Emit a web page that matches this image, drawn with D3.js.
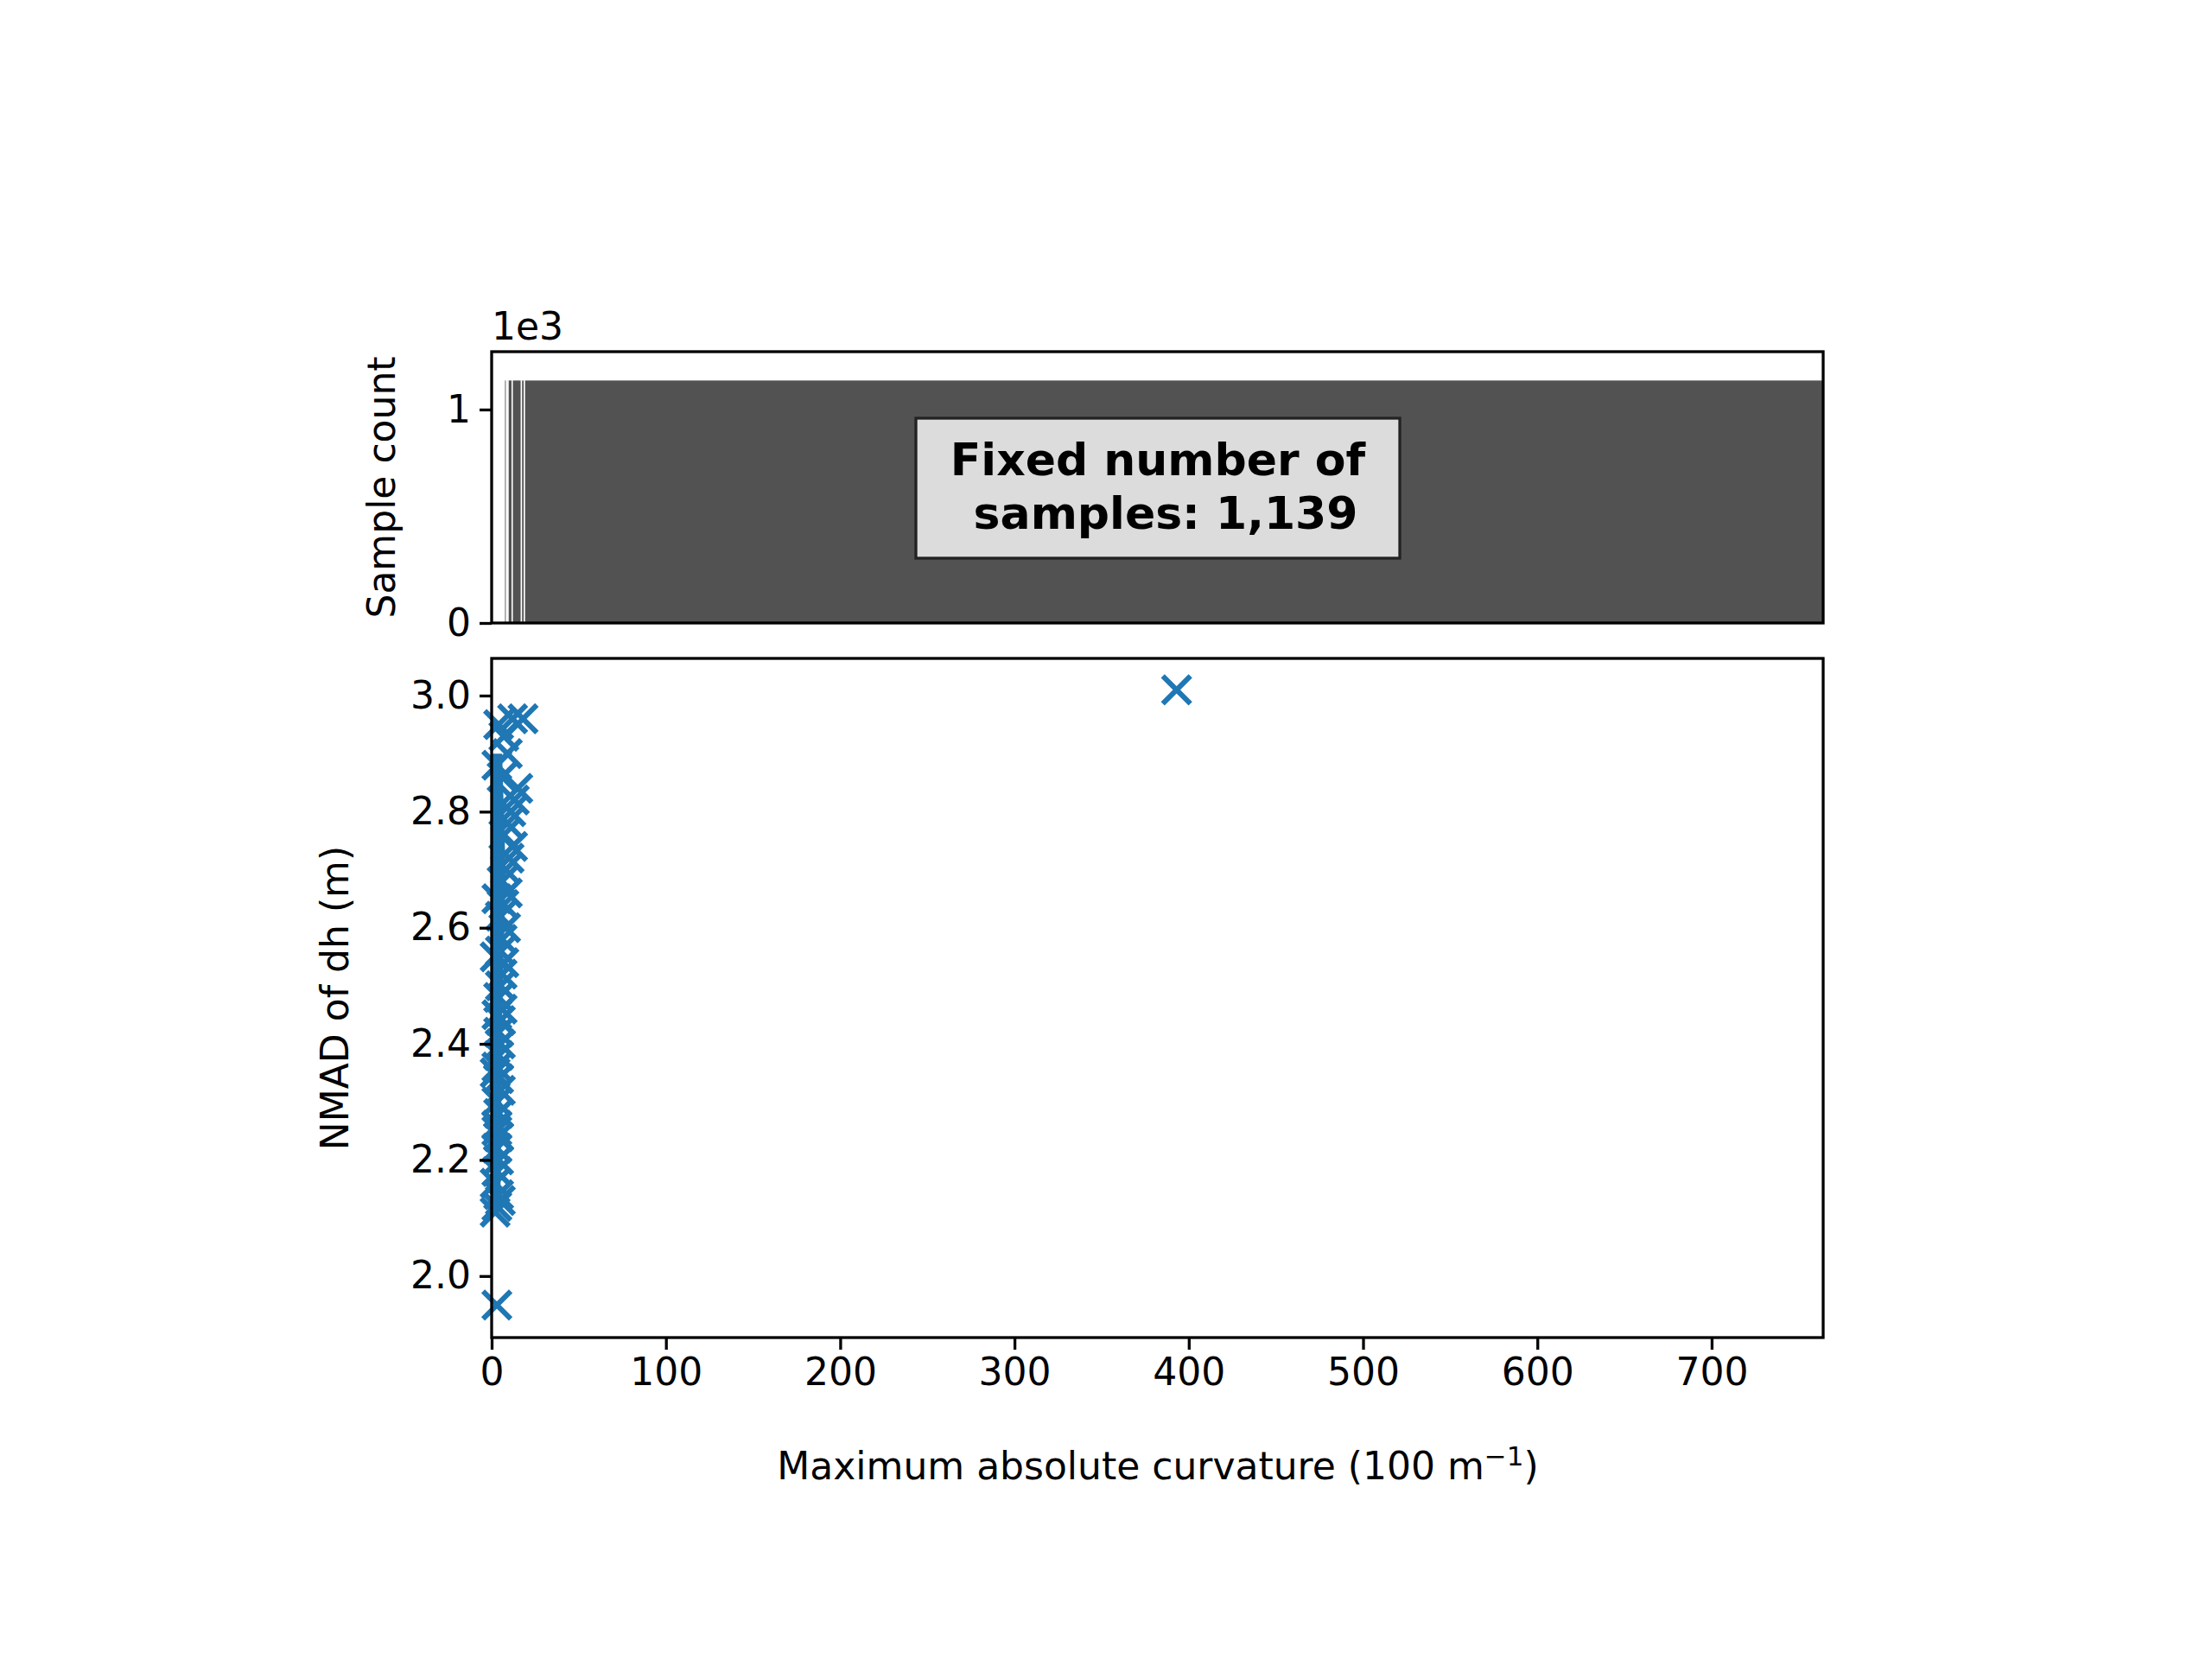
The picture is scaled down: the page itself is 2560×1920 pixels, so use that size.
<!DOCTYPE html>
<html><head><meta charset="utf-8">
<script src="https://cdn.jsdelivr.net/npm/d3@7"></script>
<style>body{margin:0;background:#fff}text{font-family:"DejaVu Sans",sans-serif}</style>
</head><body>
<script>
// histogram bin edges (equal-count bins), count per bin
var binEdges = [7.3, 8.6, 9.4, 11.8, 17.1, 18.8, 764];
var binCount = 1139;
// scatter: curvature (100 m^-1) and NMAD of dh (m)
var curv = [393, 18, 12, 4, 7, 9, 3, 6, 15, 13, 11, 9, 7, 12, 10, 8, 6, 9, 7, 5, 8, 6, 5, 7, 6, 5, 4, 6, 5, 4, 5, 4, 3, 4, 5, 3, 4, 3, 4, 3, 4, 3, 2, 4, 3, 2, 3, 2, 3, 2, 3, 5, 3];
var nmad = [3.01, 2.96, 2.96, 2.95, 2.93, 2.90, 2.88, 2.86, 2.84, 2.82, 2.80, 2.78, 2.76, 2.74, 2.72, 2.70, 2.68, 2.66, 2.64, 2.62, 2.60, 2.58, 2.56, 2.54, 2.52, 2.50, 2.48, 2.46, 2.44, 2.42, 2.40, 2.38, 2.36, 2.34, 2.32, 2.30, 2.28, 2.26, 2.24, 2.22, 2.20, 2.18, 2.16, 2.14, 2.12, 2.11, 2.25, 2.35, 2.45, 2.55, 2.65, 2.13, 1.95];
var xTicks = [0, 100, 200, 300, 400, 500, 600, 700];
var yTicks = [2.0, 2.2, 2.4, 2.6, 2.8, 3.0];

var W = 2560, H = 1920, L = 569, R = 2110;
var svg = d3.select("body").append("svg").attr("width", W).attr("height", H);
var x = d3.scaleLinear().domain([0, 764]).range([L, R]);
var yTop = d3.scaleLinear().domain([0, 1271]).range([721, 407]);
var yBot = d3.scaleLinear().domain([1.894, 3.064]).range([1548, 762]);
var fs = 44;

// top histogram
var bins = d3.range(binEdges.length - 1).map(function (i) { return [binEdges[i], binEdges[i + 1]]; });
svg.selectAll("rect.bar").data(bins).enter().append("rect")
  .attr("x", function (d) { return x(d[0]); })
  .attr("width", function (d) { return x(d[1]) - x(d[0]); })
  .attr("y", yTop(binCount)).attr("height", yTop(0) - yTop(binCount))
  .attr("fill", "#525252").attr("stroke", "#fff").attr("stroke-width", 1.5);

function frame(y0, y1) {
  svg.append("rect").attr("x", L).attr("y", y0).attr("width", R - L).attr("height", y1 - y0)
    .attr("fill", "none").attr("stroke", "#000").attr("stroke-width", 3.3);
}
frame(407, 721);
var gT = svg.append("g").attr("transform", "translate(" + L + ",0)")
  .call(d3.axisLeft(yTop).tickValues([0, 1000]).tickFormat(function (d) { return d / 1000; }).tickSize(14).tickPadding(10));
gT.select(".domain").remove();
svg.append("text").attr("x", L).attr("y", 393).attr("font-size", fs).text("1e3");
svg.append("text").attr("transform", "translate(457,564) rotate(-90)").attr("text-anchor", "middle")
  .attr("font-size", fs).text("Sample count");

// annotation box
svg.append("rect").attr("x", 1060).attr("y", 484).attr("width", 560).attr("height", 162)
  .attr("fill", "#dcdcdc").attr("stroke", "#222").attr("stroke-width", 3.3);
var tb = svg.append("text").attr("text-anchor", "middle").attr("font-size", 52).attr("font-weight", "bold");
tb.append("tspan").attr("x", 1340).attr("y", 550).text("Fixed number of");
tb.append("tspan").attr("x", 1340).attr("y", 612).text("\u00a0samples: 1,139");

// dense column of points
svg.append("path").attr("fill", "#1f77b4")
  .attr("d", d3.line()([[x(0), yBot(2.9)], [x(6), yBot(2.9)], [x(8), yBot(2.7)], [x(6), yBot(2.45)],
    [x(5), yBot(2.12)], [x(0), yBot(2.12)]]));
var s = 16;
svg.append("g").selectAll("path").data(curv).enter().append("path")
  .attr("d", function (d, i) {
    var cx = x(d), cy = yBot(nmad[i]);
    return "M" + (cx - s) + "," + (cy - s) + "L" + (cx + s) + "," + (cy + s) +
      "M" + (cx - s) + "," + (cy + s) + "L" + (cx + s) + "," + (cy - s);
  })
  .attr("stroke", "#1f77b4").attr("stroke-width", 6).attr("fill", "none");
frame(762, 1548);
var gY = svg.append("g").attr("transform", "translate(" + L + ",0)")
  .call(d3.axisLeft(yBot).tickValues(yTicks).tickFormat(d3.format(".1f")).tickSize(14).tickPadding(10));
gY.select(".domain").remove();
var gX = svg.append("g").attr("transform", "translate(0,1548)")
  .call(d3.axisBottom(x).tickValues(xTicks).tickSize(14).tickPadding(10));
gX.select(".domain").remove();
svg.selectAll(".tick line").attr("stroke-width", 3.3);
svg.selectAll(".tick text").attr("font-size", fs).attr("font-family", "DejaVu Sans").attr("fill", "#000");
svg.append("text").attr("transform", "translate(403,1155) rotate(-90)").attr("text-anchor", "middle")
  .attr("font-size", fs).text("NMAD of dh (m)");
var xl = svg.append("text").attr("x", 1340).attr("y", 1712).attr("text-anchor", "middle").attr("font-size", fs);
xl.append("tspan").text("Maximum absolute curvature (100 m");
xl.append("tspan").attr("dy", -16).attr("font-size", 31).text("\u22121");
xl.append("tspan").attr("dy", 16).text(")");
</script>
</body></html>
